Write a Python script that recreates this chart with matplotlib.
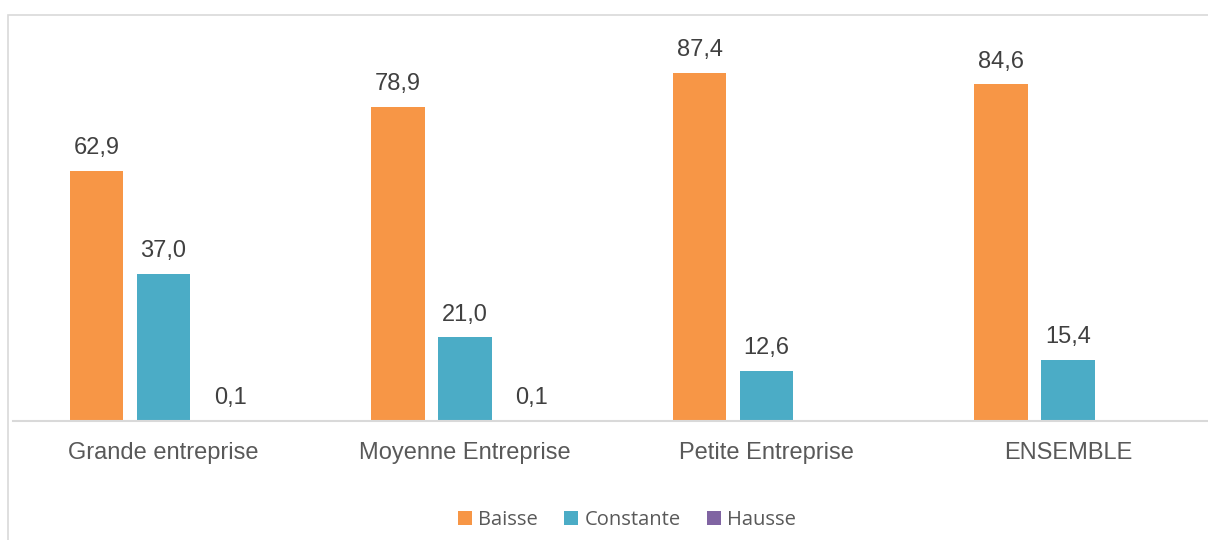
import numpy as np
import matplotlib.pyplot as plt
from matplotlib.patches import Rectangle

categories = ["Grande entreprise", "Moyenne Entreprise", "Petite Entreprise", "ENSEMBLE"]
baisse = [62.9, 78.9, 87.4, 84.6]
constante = [37.0, 21.0, 12.6, 15.4]
hausse = [0.1, 0.1, np.nan, np.nan]

series = ["Baisse", "Constante", "Hausse"]
colors = ["#F79646", "#4BACC6", "#8064A2"]

W, H = 1208, 540
fig = plt.figure(figsize=(W / 100, H / 100), dpi=100)

# cadre gris du graphique (coupé à droite et en bas)
fig.patches.append(Rectangle((8 / W, -0.1), 1.2, 1.1 - 15 / H, transform=fig.transFigure,
                             fill=False, edgecolor="#d9d9d9", linewidth=1.2))

ax = fig.add_axes([12.75 / W, 119 / H, 1206 / W, 398 / H])
x = np.arange(len(categories))
width = 0.176
step = 0.2222

for i, (vals, name, c) in enumerate(zip([baisse, constante, hausse], series, colors)):
    pos = x + (i - 1) * step
    v = np.nan_to_num(vals)
    ax.bar(pos, v, width, color=c, label=name)
    for p, val in zip(pos, vals):
        if np.isnan(val):
            continue
        ax.annotate(f"{val:.1f}".replace(".", ","), (p, val), xytext=(0, 12),
                    textcoords="offset points", ha="center", va="baseline",
                    fontsize=17, color="#404040", family="Liberation Sans")

ax.set_xlim(-0.5, 3.5)
ax.set_ylim(0, 100)
ax.set_xticks(x)
ax.set_xticklabels(categories, fontsize=17, color="#595959", family="Liberation Sans")
ax.tick_params(axis="x", length=0, pad=15)
ax.set_yticks([])
for s in ["top", "right", "left"]:
    ax.spines[s].set_visible(False)
ax.spines["bottom"].set_color("#d9d9d9")
ax.spines["bottom"].set_linewidth(1.5)

leg = fig.legend(loc="center", bbox_to_anchor=(627 / W, 1 - 520 / H), ncol=3, frameon=False,
                 prop={"family": "Open Sans", "size": 14.5}, handlelength=0.7, handleheight=0.7,
                 handletextpad=0.3, columnspacing=1.3)
for t in leg.get_texts():
    t.set_color("#595959")

plt.savefig("out.png", dpi=100)
